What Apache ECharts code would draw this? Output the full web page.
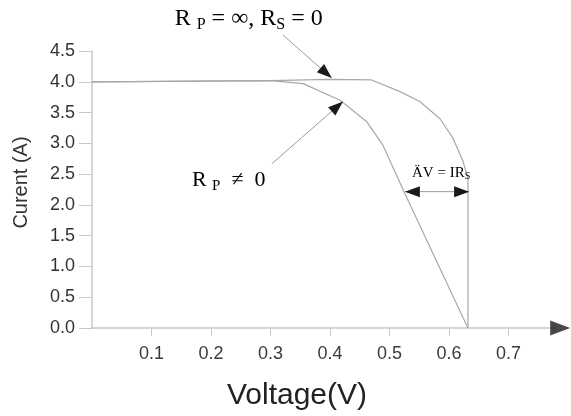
<!DOCTYPE html>
<html>
<head>
<meta charset="utf-8">
<script src="https://cdn.jsdelivr.net/npm/echarts@6/dist/echarts.min.js"></script>
<style>
  html, body { margin: 0; padding: 0; background: #fff; }
  #chart { width: 571px; height: 416px; }
</style>
</head>
<body>
<div id="chart"></div>
<script>
// I-V curve data
const voltageIdeal = [0, 0.30, 0.40, 0.47, 0.518, 0.551, 0.585, 0.607, 0.624, 0.632, 0.632];
const currentIdeal = [4.0, 4.02, 4.04, 4.03, 3.84, 3.68, 3.40, 3.08, 2.70, 2.43, 0];
const voltageReal = [0, 0.30, 0.355, 0.417, 0.462, 0.489, 0.512, 0.526, 0.632];
const currentReal = [4.0, 4.02, 3.97, 3.70, 3.35, 2.97, 2.48, 2.18, 0];

// Axis ticks
const xTicks = [0.1, 0.2, 0.3, 0.4, 0.5, 0.6, 0.7];
const xMax = 0.78;
const yMax = 4.5;
const yStep = 0.5;

// Annotations (data coordinates)
const arrowTop = [[0.321, 4.76], [0.403, 4.06]];
const arrowLeft = [[0.3025, 2.67], [0.422, 3.68]];
const arrowDeltaV = [[0.526, 2.215], [0.634, 2.215]];
const labelTopAt = [0.139, 4.80];
const labelLeftAt = [0.168, 2.19];
const labelDeltaAt = [0.538, 2.38];

const SANS = '"Liberation Sans", Arial, sans-serif';
const SERIF = '"Liberation Serif", "Times New Roman", serif';
const CURVE_COLOR = '#a8a8a8';
const AXIS_COLOR = '#c8c8c8';

const chart = echarts.init(document.getElementById('chart'));

function zip(xs, ys) {
    return xs.map((x, i) => [x, ys[i]]);
}

const option = {
    animation: false,
    grid: { left: 92, top: 51, right: 15, bottom: 87, containLabel: false },
    xAxis: {
        type: 'value',
        min: 0,
        max: xMax,
        name: 'Voltage(V)',
        nameLocation: 'middle',
        nameGap: 53,
        nameTextStyle: { fontFamily: SANS, fontSize: 30, color: '#222', padding: [0, 54, 0, 0] },
        axisLine: { lineStyle: { color: AXIS_COLOR, width: 1.5 } },
        axisTick: { show: true, customValues: xTicks, length: 8, lineStyle: { color: AXIS_COLOR } },
        axisLabel: {
            customValues: xTicks,
            formatter: v => v.toFixed(1),
            fontFamily: SANS, fontSize: 18, color: '#3a3a3a', margin: 17
        },
        splitLine: { show: false }
    },
    yAxis: {
        type: 'value',
        min: 0,
        max: yMax,
        interval: yStep,
        name: 'Curent (A)',
        nameLocation: 'middle',
        nameGap: 61,
        nameTextStyle: { fontFamily: SANS, fontSize: 20, color: '#333', padding: [0, 0, 0, 14] },
        axisLine: { show: true, lineStyle: { color: AXIS_COLOR, width: 1.5 } },
        axisTick: { show: true, length: 13, lineStyle: { color: AXIS_COLOR } },
        axisLabel: { formatter: v => v.toFixed(1), fontFamily: SANS, fontSize: 18, color: '#333', margin: 17 },
        splitLine: { show: false }
    },
    series: [
        {
            name: 'Rp=inf, Rs=0',
            type: 'line',
            data: zip(voltageIdeal, currentIdeal),
            showSymbol: false,
            lineStyle: { color: CURVE_COLOR, width: 1.2 },
            z: 3
        },
        {
            name: 'Rp!=0',
            type: 'line',
            data: zip(voltageReal, currentReal),
            showSymbol: false,
            lineStyle: { color: CURVE_COLOR, width: 1.2 },
            z: 3
        },
        {
            // x-axis arrow head
            type: 'scatter',
            data: [[0.787, 0]],
            symbol: 'triangle',
            symbolSize: [15, 20],
            symbolRotate: -90,
            itemStyle: { color: '#1a1a1a' },
            clip: false,
            silent: true,
            z: 4
        }
    ]
};

chart.setOption(option);

// Build annotation graphics in pixel space from data coordinates
function px(p) {
    return chart.convertToPixel({ gridIndex: 0 }, p);
}

function head(tip, from, len, halfW) {
    const dx = tip[0] - from[0], dy = tip[1] - from[1];
    const d = Math.hypot(dx, dy);
    const ux = dx / d, uy = dy / d;
    const bx = tip[0] - ux * len, by = tip[1] - uy * len;
    return {
        type: 'polygon',
        shape: { points: [tip, [bx - uy * halfW, by + ux * halfW], [bx + uy * halfW, by - ux * halfW]] },
        style: { fill: '#1a1a1a' },
        z: 10
    };
}

function arrow(pair, both) {
    const a = px(pair[0]), b = px(pair[1]);
    const items = [{
        type: 'line',
        shape: { x1: a[0], y1: a[1], x2: b[0], y2: b[1] },
        style: { stroke: '#9a9a9a', lineWidth: 1 },
        z: 9
    }, head(b, a, 15, 5.5)];
    if (both) items.push(head(a, b, 15, 5.5));
    return items;
}

function richLabel(at, text, rich) {
    const p = px(at);
    return {
        type: 'text',
        x: p[0],
        y: p[1],
        style: { text: text, rich: rich, align: 'left', verticalAlign: 'bottom' },
        z: 10
    };
}

const topRich = {
    m: { fontFamily: SERIF, fontSize: 24, color: '#222' },
    s: { fontFamily: SERIF, fontSize: 16, color: '#222', padding: [11, 0, 0, 0] }
};
const leftRich = {
    m: { fontFamily: SERIF, fontSize: 22, color: '#222' },
    s: { fontFamily: SERIF, fontSize: 15, color: '#222', padding: [10, 0, 0, 0] }
};
const smallRich = {
    m: { fontFamily: SERIF, fontSize: 15, color: '#222' },
    s: { fontFamily: SERIF, fontSize: 10, color: '#222', padding: [7, 0, 0, 0] }
};

const graphics = []
    .concat(arrow(arrowTop))
    .concat(arrow(arrowLeft))
    .concat(arrow(arrowDeltaV, true))
    .concat([
        richLabel(labelTopAt, '{m|R }{s|P}{m| = ∞, R}{s|S}{m| = 0}', topRich),
        richLabel(labelLeftAt, '{m|R }{s|P}{m|  ≠  0}', leftRich),
        richLabel(labelDeltaAt, '{m|ÄV = IR}{s|S}', smallRich)
    ]);

chart.setOption({ graphic: graphics });
</script>
</body>
</html>
